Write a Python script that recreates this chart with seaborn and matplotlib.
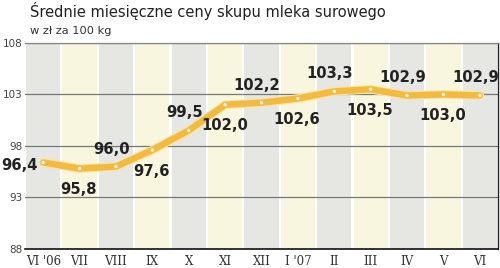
import matplotlib
matplotlib.use("Agg")
import matplotlib.pyplot as plt
import seaborn as sns
import pandas as pd
import numpy as np

months = ["VI '06", "VII", "VIII", "IX", "X", "XI", "XII", "I '07", "II", "III", "IV", "V", "VI"]
prices = [96.4, 95.8, 96.0, 97.6, 99.5, 102.0, 102.2, 102.6, 103.3, 103.5, 102.9, 103.0, 102.9]
label_text = ["96,4", "95,8", "96,0", "97,6", "99,5", "102,0", "102,2", "102,6", "103,3", "103,5", "102,9", "103,0", "102,9"]
y_ticks = [88, 93, 98, 103, 108]

df = pd.DataFrame({"idx": np.arange(len(months)), "price": prices})

sns.set_style("white")
plt.rcParams['font.family'] = ['DejaVu Sans']

fig = plt.figure(figsize=(5, 2.68), dpi=100)
ax = fig.add_axes([0.05, 0.0709, 0.946, 0.769])

band_cols = ["#e6e6e2", "#f8f6df"]
for i in range(len(months)):
    ax.axvspan(i - 0.5 + 0.03, i + 0.5 - 0.03, color=band_cols[i % 2], lw=0, zorder=0)

for yv in y_ticks[1:]:
    ax.axhline(yv, color="#777777", lw=0.9, zorder=1)

sns.lineplot(data=df, x="idx", y="price", ax=ax, color="#fbe3a6", lw=6.2,
             solid_capstyle="round", solid_joinstyle="round", zorder=3, legend=False)
sns.lineplot(data=df, x="idx", y="price", ax=ax, color="#f2bb3f", lw=4.6,
             solid_capstyle="round", solid_joinstyle="round", zorder=4, legend=False)
sns.scatterplot(data=df, x="idx", y="price", ax=ax, color="#fff8e0", s=6,
                edgecolor="none", zorder=5, legend=False)

lab_font = dict(fontsize=10.6, fontweight="bold", color="#222222", zorder=6)
for i, (v, t) in enumerate(zip(prices, label_text)):
    if i == 0:
        ax.text(i - 0.15, v - 0.25, t, ha="right", va="center", **lab_font)
    elif i % 2 == 0:
        ax.text(i - 0.12, v + 1.7, t, ha="center", va="center", **lab_font)
    else:
        ax.text(i - 0.02, v - 2.05, t, ha="center", va="center", **lab_font)

ax.set_xlim(-0.5, len(months) - 0.5)
ax.set_ylim(88, 108)
ax.set_yticks(y_ticks)
ax.set_yticklabels([str(v) for v in y_ticks], fontsize=7.5, color="#444444")
ax.set_xticks(range(len(months)))
ax.set_xticklabels(months, fontsize=8.5, color="#333333", family="DejaVu Serif")
ax.tick_params(axis="both", length=0, pad=2)
ax.tick_params(axis="x", pad=4)
ax.set_xlabel("")
ax.set_ylabel("")

ax.spines["left"].set_visible(False)
ax.spines["top"].set_color("#888888")
ax.spines["top"].set_linewidth(0.9)
ax.spines["right"].set_color("#222222")
ax.spines["right"].set_linewidth(1.0)
ax.spines["bottom"].set_color("#111111")
ax.spines["bottom"].set_linewidth(1.2)

fig.text(30 / 500, 1 - 11 / 268, "Średnie miesięczne ceny skupu mleka surowego",
         fontsize=10.5, color="#222222", va="center", ha="left")
fig.text(30 / 500, 1 - 31 / 268, "w zł za 100 kg", fontsize=8.2, color="#333333",
         va="center", ha="left")

fig.savefig("out.png", dpi=100)
